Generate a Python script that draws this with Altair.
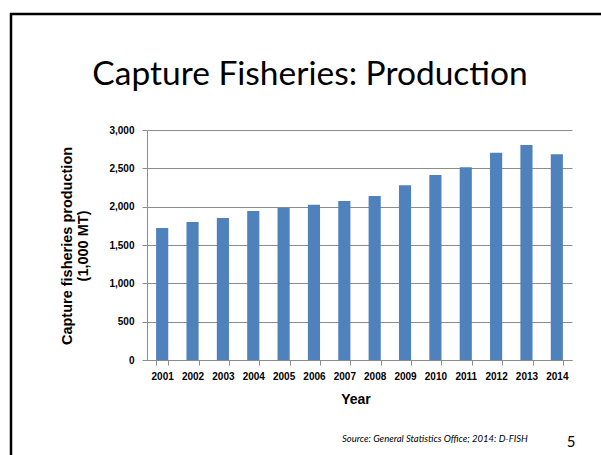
import altair as alt
import pandas as pd

years = [str(y) for y in range(2001, 2015)]
production = [1722, 1800, 1852, 1943, 1987, 2026, 2074, 2139, 2278, 2413, 2513, 2704, 2804, 2683]
y_ticks = [0, 500, 1000, 1500, 2000, 2500, 3000]

title_text = "Capture Fisheries: Production"
y_title = ["Capture fisheries production", "(1,000 MT)"]
x_title = "Year"
source_text = "Source: General Statistics Office; 2014: D-FISH"
page_no = "5"

df = pd.DataFrame({"Year": years, "Production": production})

W, H = 425, 230
L, T = 147, 130
PW, PH = 601, 455

grey = "#8c8c8c"

bars = alt.Chart(df).mark_bar(color="#4F81BD").encode(
    x=alt.X(
        "Year:N", sort=years,
        scale=alt.Scale(paddingInner=0.6, paddingOuter=0.3),
        axis=alt.Axis(title=None, labelAngle=0, labelFont="Liberation Sans",
                      labelFontWeight="bold", labelFontSize=10, labelColor="black",
                      tickBand="extent", tickSize=5, tickColor=grey, domainColor=grey,
                      labelPadding=6, grid=False),
    ),
    y=alt.Y(
        "Production:Q",
        scale=alt.Scale(domain=[0, 3000], nice=False),
        axis=alt.Axis(title=None, values=y_ticks, format=",.0f", labelFont="Liberation Sans",
                      labelFontWeight="bold", labelFontSize=10, labelColor="black",
                      tickSize=5, tickColor=grey, domainColor=grey, gridColor=grey,
                      labelPadding=8),
    ),
)


def txt(text, x, y, size, **kw):
    return alt.Chart(pd.DataFrame({"t": [text]})).mark_text(fontSize=size, **kw).encode(
        text="t:N", x=alt.value(x), y=alt.value(y)
    )


title = txt(title_text, 163, -45, 33.5, font="Lato", color="black", align="center", baseline="alphabetic")
yt1 = txt(y_title[0], -79, H / 2 + 1, 14.5, font="Liberation Sans", fontWeight="bold", angle=270,
          align="center", baseline="middle", color="black")
yt2 = txt(y_title[1], -63, H / 2 + 1, 14.5, font="Liberation Sans", fontWeight="bold", angle=270,
          align="center", baseline="middle", color="black")
xt = txt(x_title, 209, 270, 14, font="Liberation Sans", fontWeight="bold", align="center",
         baseline="middle", color="black")
src = txt(source_text, 195, 309, 9.5, font="Lato", fontStyle="italic", align="left",
          baseline="middle", color="black")
pg = txt(page_no, 424, 312, 15, font="Lato", align="center", baseline="middle", color="black")

frame_df = pd.DataFrame({"k": [0]})
top_line = alt.Chart(frame_df).mark_rule(color="black", strokeWidth=2.5).encode(
    x=alt.value(-137), x2=alt.value(PW - L), y=alt.value(-116)
)
left_line = alt.Chart(frame_df).mark_rule(color="black", strokeWidth=2.5).encode(
    x=alt.value(-136), y=alt.value(-117), y2=alt.value(PH - T)
)

chart = alt.layer(bars, title, yt1, yt2, xt, src, pg, top_line, left_line).properties(
    width=W, height=H,
    autosize=alt.AutoSizeParams(type="none"),
    padding={"left": L, "top": T, "right": PW - L - W, "bottom": PH - T - H},
    background="white",
).configure_view(stroke=None)

chart.save("out.html", embed_options={"renderer": "svg", "actions": False})
